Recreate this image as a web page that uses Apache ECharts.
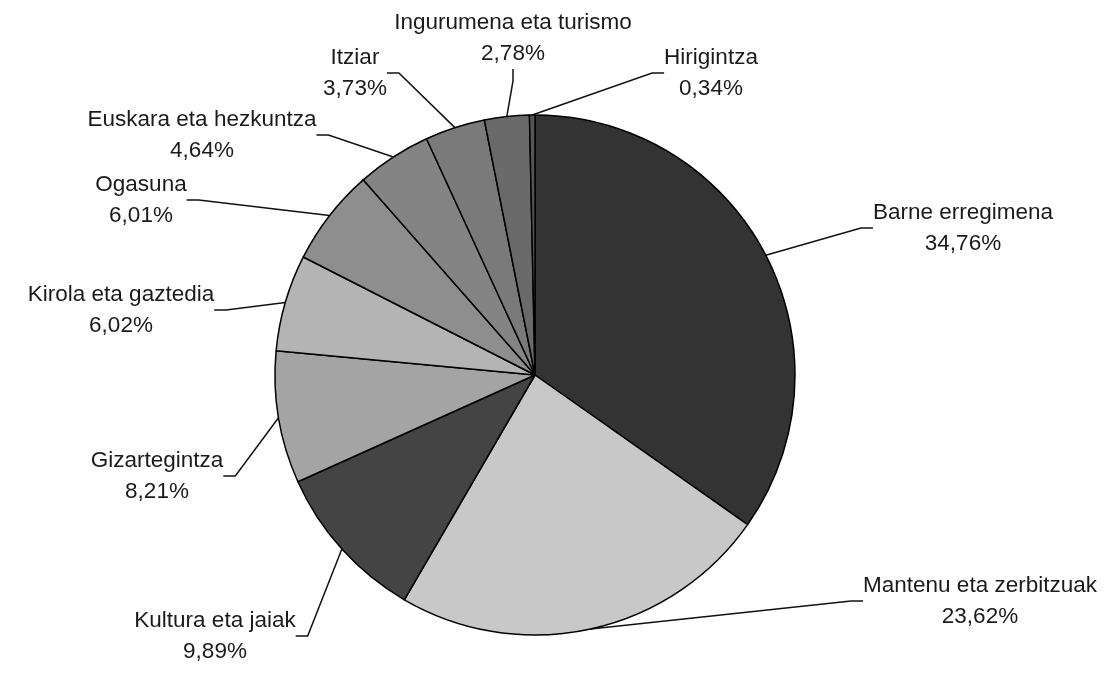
<!DOCTYPE html>
<html><head><meta charset="utf-8">
<script src="https://cdn.jsdelivr.net/npm/echarts@6/dist/echarts.min.js"></script>
<style>html,body{margin:0;padding:0;background:#fff}#c{width:1120px;height:687px}</style>
</head><body><div id="c"></div>
<script>
const categories = ['Barne erregimena','Mantenu eta zerbitzuak','Kultura eta jaiak','Gizartegintza','Kirola eta gaztedia','Ogasuna','Euskara eta hezkuntza','Itziar','Ingurumena eta turismo','Hirigintza'];
const shares = [34.76,23.62,9.89,8.21,6.02,6.01,4.64,3.73,2.78,0.34];
const sliceColors = ['#333333','#c8c8c8','#444444','#a4a4a4','#b4b4b4','#8e8e8e','#848484','#7a7a7a','#6a6a6a','#555555'];
const labelAnchors = [[963,228],[980,601],[215,636],[157,476],[121,310],[141,200],[202,135],[355,73],[513,38],[711,73]];

const chart = echarts.init(document.getElementById('c'), null, {renderer:'canvas'});
chart.setOption({
  backgroundColor:'#ffffff',
  animation:false,
  series:[{
    type:'pie',
    center:[535,375],
    radius:260,
    startAngle:90,
    clockwise:true,
    avoidLabelOverlap:false,
    silent:true,
    data: categories.map((n,i)=>({name:n, value:shares[i], itemStyle:{color:sliceColors[i]}})),
    itemStyle:{borderColor:'#000', borderWidth:1.5},
    label:{
      show:true, position:'outside',
      formatter: p => p.name + '\n' + p.value.toFixed(2).replace('.',',') + '%',
      fontFamily:'Liberation Sans, Arial, sans-serif', fontSize:22.5, lineHeight:31,
      color:'#1a1a1a', align:'center'
    },
    labelLine:{show:true, length:20, length2:12, minTurnAngle:0, lineStyle:{color:'#111', width:1.5}},
    labelLayout: p => ({x: labelAnchors[p.dataIndex][0], y: labelAnchors[p.dataIndex][1], align:'center', verticalAlign:'middle'})
  }]
});
</script></body></html>
